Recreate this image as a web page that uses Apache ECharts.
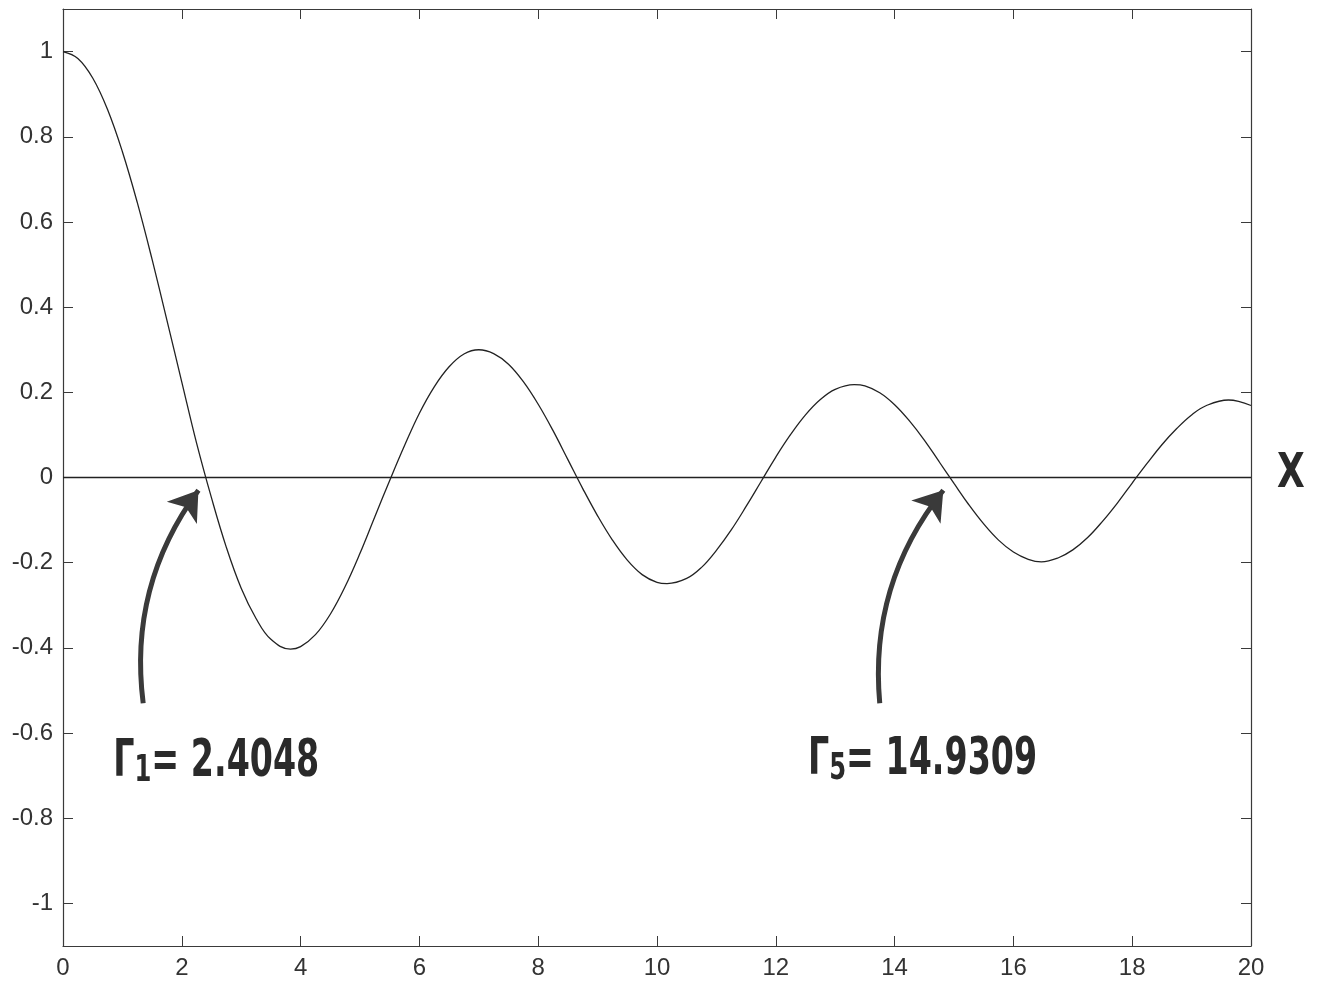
<!DOCTYPE html>
<html>
<head>
<meta charset="utf-8">
<script src="https://cdn.jsdelivr.net/npm/echarts@6/dist/echarts.min.js"></script>
<style>html,body{margin:0;padding:0;background:#fff;}#c{width:1317px;height:985px;}</style>
</head>
<body>
<div id="c"></div>
<script>
// x values (about 0.25 apart, plus the turning points) and curve values
const xValues = [0,0.25,0.5,0.75,1,1.25,1.5,1.75,2,2.25,2.5,2.75,3,3.25,3.5,3.83,4,4.25,4.5,4.75,5,5.25,5.5,5.75,6,6.25,6.5,6.75,7,7.25,7.5,7.75,8,8.25,8.5,8.75,9,9.25,9.5,9.75,10,10.17,10.5,10.75,11,11.25,11.5,11.75,12,12.25,12.5,12.75,13,13.32,13.5,13.75,14,14.25,14.5,14.75,15,15.25,15.5,15.75,16,16.25,16.47,16.75,17,17.25,17.5,17.75,18,18.25,18.5,18.75,19,19.25,19.62,20];
const yValues = [1.000,0.984,0.938,0.864,0.765,0.646,0.512,0.369,0.224,0.080,-0.048,-0.164,-0.260,-0.331,-0.380,-0.403,-0.397,-0.369,-0.321,-0.256,-0.178,-0.092,-0.007,0.075,0.151,0.213,0.260,0.290,0.300,0.291,0.266,0.225,0.172,0.110,0.042,-0.026,-0.090,-0.147,-0.194,-0.228,-0.246,-0.249,-0.237,-0.211,-0.171,-0.123,-0.068,-0.010,0.048,0.101,0.147,0.183,0.207,0.218,0.215,0.199,0.171,0.133,0.088,0.037,-0.014,-0.064,-0.109,-0.147,-0.175,-0.192,-0.198,-0.189,-0.170,-0.141,-0.103,-0.060,-0.013,0.033,0.077,0.115,0.147,0.169,0.182,0.169];
const yTickLabels = [-1,-0.8,-0.6,-0.4,-0.2,0,0.2,0.4,0.6,0.8,1];
const xTickLabels = [0,2,4,6,8,10,12,14,16,18,20];
// annotations: arrow start, arrow tip (data coords), label position and text
const arrowStarts = [[1.35,-0.53],[13.75,-0.53]];
const arrowTips = [[2.28,-0.03],[14.82,-0.03]];
const labelPos = [[2.58,-0.668],[14.47,-0.664]];
const labelSubs = ['1','5'];
const labelValues = ['2.4048','14.9309'];

const curve = xValues.map((x,i)=>[x,yValues[i]]);
const axisColor = '#3a3a3a';
const chart = echarts.init(document.getElementById('c'));
const tickStyle = {show:true, inside:true, length:10, lineStyle:{color:axisColor, width:1}};
const labelFont = 'Liberation Sans, Arial, sans-serif';
const handFont = 'DejaVu Sans, sans-serif';
const option = {
  animation:false,
  backgroundColor:'#fff',
  grid:{left:63, top:9, right:66, bottom:39, containLabel:false},
  xAxis:[
    {type:'value', min:0, max:20, interval:2, position:'bottom',
     axisLine:{show:true, onZero:false, lineStyle:{color:axisColor, width:1.2}},
     axisTick:tickStyle, splitLine:{show:false},
     axisLabel:{color:'#333', fontSize:24, fontFamily:labelFont, margin:10, customValues:xTickLabels}},
    {type:'value', min:0, max:20, interval:2, position:'top',
     axisLine:{show:true, onZero:false, lineStyle:{color:axisColor, width:1.2}},
     axisTick:tickStyle, splitLine:{show:false}, axisLabel:{show:false}}
  ],
  yAxis:[
    {type:'value', min:-1.1, max:1.1, position:'left',
     axisLine:{show:true, onZero:false, lineStyle:{color:axisColor, width:1.2}},
     axisTick:Object.assign({}, tickStyle, {customValues:yTickLabels}), splitLine:{show:false},
     axisLabel:{color:'#333', fontSize:24, fontFamily:labelFont, margin:10, customValues:yTickLabels}},
    {type:'value', min:-1.1, max:1.1, position:'right',
     axisLine:{show:true, onZero:false, lineStyle:{color:axisColor, width:1.2}},
     axisTick:Object.assign({}, tickStyle, {customValues:yTickLabels}), splitLine:{show:false}, axisLabel:{show:false}}
  ],
  series:[
    {type:'line', data:curve, smooth:0.4, showSymbol:false, symbol:'none',
     lineStyle:{color:'#222', width:1.3}, xAxisIndex:0, yAxisIndex:0,
     markLine:{silent:true, symbol:['none','none'], label:{show:false},
       lineStyle:{color:'#222', width:1.3, type:'solid'}, data:[{yAxis:0}]}},
    {type:'lines', coordinateSystem:'cartesian2d', xAxisIndex:0, yAxisIndex:0,
     symbol:['none','arrow'], symbolSize:[0,28],
     lineStyle:{color:'#3a3a3a', width:5, curveness:0.2, opacity:1},
     data:arrowStarts.map((s,i)=>({coords:[s, arrowTips[i]]}))}
  ]
};
chart.setOption(option);
const graphics = labelPos.map((lp,i)=>{
  const q = chart.convertToPixel({xAxisIndex:0, yAxisIndex:0}, lp);
  return {type:'text', x:q[0], y:q[1], scaleX:0.64, scaleY:1,
    style:{text:'{g|Γ}{s|'+labelSubs[i]+'}{g|= '+labelValues[i]+'}', align:'center', verticalAlign:'middle',
      rich:{
        g:{fontSize:52, fontFamily:handFont, fill:'#2a2a2a', fontWeight:'bold', lineHeight:56, verticalAlign:'middle'},
        s:{fontSize:38, fontFamily:handFont, fill:'#2a2a2a', fontWeight:'bold', lineHeight:56, verticalAlign:'bottom', padding:[44,0,0,0]}
      }}};
});
const p = chart.convertToPixel({xAxisIndex:0, yAxisIndex:0}, [20, 0]);
graphics.push({type:'text', x:p[0]+40, y:p[1]-3, scaleX:0.75,
  style:{text:'X', fontSize:48, fontWeight:'bold', fontFamily:handFont, fill:'#2a2a2a', align:'center', verticalAlign:'middle'}});
chart.setOption({graphic:graphics});
</script>
</body>
</html>
